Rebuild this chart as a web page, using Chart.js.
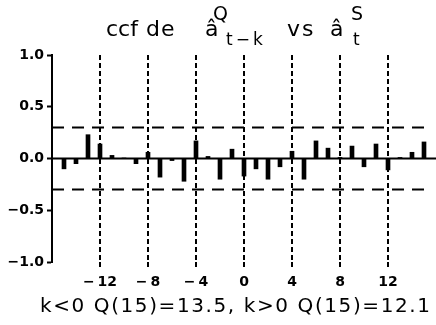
<!DOCTYPE html>
<html>
<head>
<meta charset="utf-8">
<script src="https://cdn.jsdelivr.net/npm/chart.js@4"></script>
<style>
html,body{margin:0;padding:0;background:#fff;}
#wrap{position:relative;width:436px;height:325px;}
canvas{display:block;}
</style>
</head>
<body>
<div id="wrap"><canvas id="c" width="436" height="325"></canvas></div>
<script>
// ---- data ----
const lags = [-15,-14,-13,-12,-11,-10,-9,-8,-7,-6,-5,-4,-3,-2,-1,0,1,2,3,4,5,6,7,8,9,10,11,12,13,14,15];
const ccfValues = [-0.10,-0.05,0.23,0.14,0.03,0.005,-0.05,0.06,-0.18,-0.02,-0.22,0.17,0.02,-0.20,0.09,-0.17,-0.10,-0.20,-0.08,0.07,-0.20,0.17,0.10,0.01,0.12,-0.08,0.14,-0.11,0.01,0.06,0.16];
const bandX = [-16, 15.25];
const upperBand = [0.3, 0.3];
const lowerBand = [-0.3, -0.3];
const zeroX = [-16, 16];
const zeroY = [0, 0];
const xTickValues = [-12, -8, -4, 0, 4, 8, 12];
const yTickValues = [-1.0, -0.5, 0.0, 0.5, 1.0];
const captionText = "k<0 Q(15)=13.5, k>0 Q(15)=12.1";

function spacedText(ctx, text, x, y, spacing) {
  if ('letterSpacing' in ctx) {
    ctx.letterSpacing = spacing + 'px';
    ctx.fillText(text, x, y);
    ctx.letterSpacing = '0px';
  } else {
    let cx = x;
    for (const ch of text) { ctx.fillText(ch, cx, y); cx += ctx.measureText(ch).width + spacing; }
  }
}

const textPlugin = {
  id: 'texts',
  afterDraw(chart) {
    const ctx = chart.ctx;
    ctx.save();
    ctx.fillStyle = '#000';
    ctx.textBaseline = 'alphabetic';
    ctx.textAlign = 'left';
    const fam = '"DejaVu Sans", sans-serif';
    ctx.font = '22px ' + fam;
    spacedText(ctx, 'ccf', 106, 36, 0);
    spacedText(ctx, 'de', 146, 36, 1);
    spacedText(ctx, '\u00e2', 205, 36, 0);
    spacedText(ctx, 'vs', 287, 36, 2);
    spacedText(ctx, '\u00e2', 330, 36, 0);
    ctx.font = '19px ' + fam;
    spacedText(ctx, 'Q', 213, 20, 0);
    spacedText(ctx, 'S', 351, 20, 0);
    ctx.font = '17px ' + fam;
    spacedText(ctx, 't\u2212k', 226, 45, 3);
    spacedText(ctx, 't', 353, 45, 0);
    // caption
    ctx.font = '20px ' + fam;
    const w = ctx.measureText(captionText).width;
    const sp = (390 - w) / (captionText.length - 1);
    spacedText(ctx, captionText, 40, 312, sp);
    ctx.restore();
  }
};

const lineDs = (xs, ys, dash) => ({
  type: 'line',
  data: xs.map((x, i) => ({x, y: ys[i]})),
  borderColor: '#000',
  borderWidth: 2,
  borderDash: dash,
  pointRadius: 0,
  fill: false,
  tension: 0,
  order: 0
});

new Chart(document.getElementById('c'), {
  type: 'bar',
  data: {
    datasets: [
      {
        type: 'bar',
        data: lags.map((x, i) => ({x, y: ccfValues[i]})),
        backgroundColor: '#000',
        borderWidth: 0,
        barThickness: 4,
        grouped: false,
        order: 1
      },
      lineDs(zeroX, zeroY, []),
      lineDs(bandX, upperBand, [12, 8]),
      lineDs(bandX, lowerBand, [12, 8])
    ]
  },
  options: {
    responsive: false,
    animation: false,
    devicePixelRatio: 1,
    layout: { padding: { top: 55, left: 0, right: 0, bottom: 0 } },
    plugins: { legend: { display: false }, tooltip: { enabled: false }, title: { display: false } },
    scales: {
      x: {
        type: 'linear',
        offset: false,
        min: -16, max: 16,
        afterBuildTicks: s => { s.ticks = xTickValues.map(v => ({value: v})); },
        afterFit: s => { s.height = 63; },
        border: { display: false, dash: [5, 3] },
        grid: {
          offset: false,
          color: '#000', lineWidth: 2,
          drawTicks: true, tickLength: 5, tickBorderDash: [5, 3], tickColor: '#000', tickWidth: 2
        },
        ticks: {
          color: '#000', padding: 7, maxRotation: 0, autoSkip: false,
          font: { family: '"DejaVu Sans", sans-serif', size: 14, weight: 'bold' },
          callback: v => (v < 0 ? '\u2212\u2009' + Math.abs(v) : String(v))
        }
      },
      y: {
        min: -1, max: 1,
        afterBuildTicks: s => { s.ticks = yTickValues.map(v => ({value: v})); },
        afterFit: s => { s.width = 52; },
        border: { display: true, color: '#000', width: 2 },
        grid: { drawOnChartArea: false, drawTicks: true, tickLength: 5, tickColor: '#000', tickWidth: 2 },
        ticks: {
          color: '#000', padding: 3,
          font: { family: '"DejaVu Sans", sans-serif', size: 14, weight: 'bold' },
          callback: v => (v < 0 ? '\u2212' + Math.abs(v).toFixed(1) : v.toFixed(1))
        }
      }
    }
  },
  plugins: [textPlugin]
});
</script>
</body>
</html>
